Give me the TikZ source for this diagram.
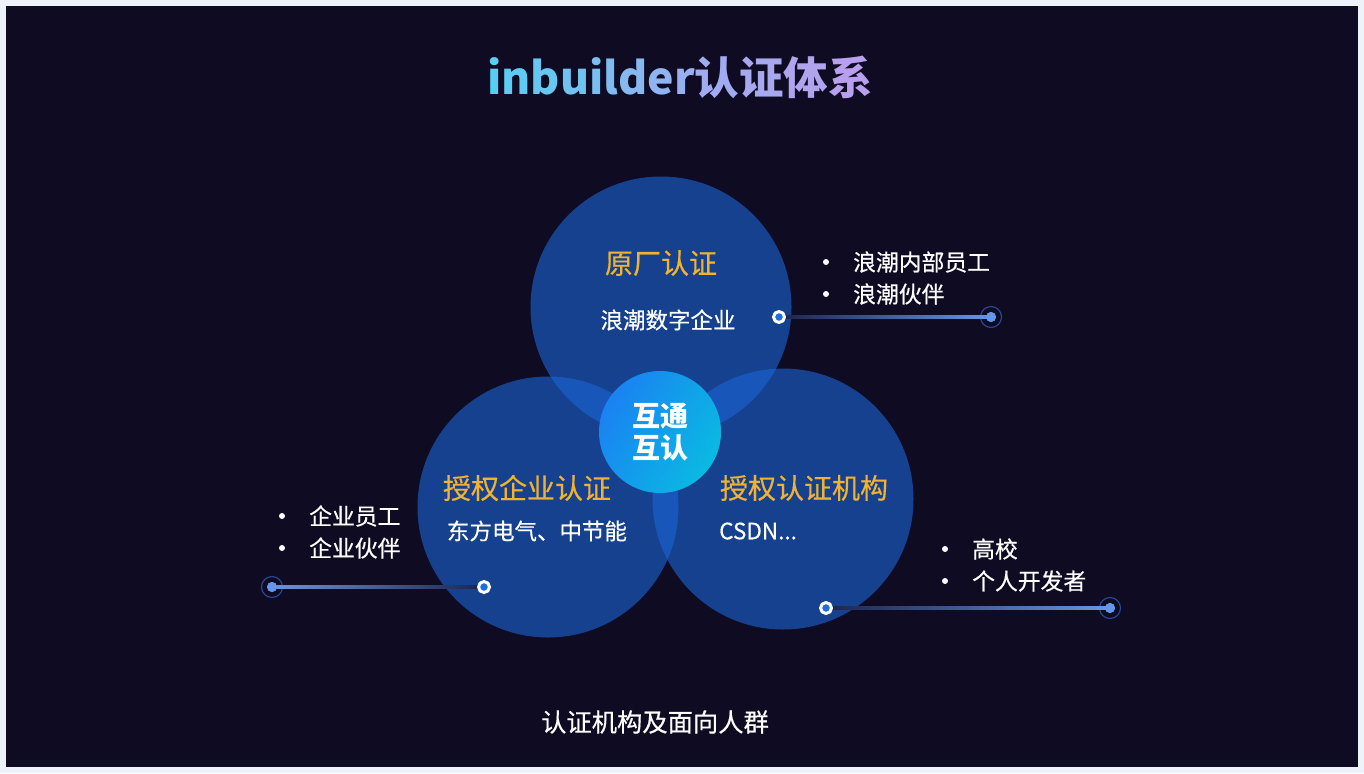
\documentclass[tikz,border=0pt]{standalone}
\usepackage{fontspec}
\setmainfont{Noto Sans CJK SC}
\newfontfamily\medf[FakeBold=0.5]{Noto Sans CJK SC}
\usetikzlibrary{calc}
\definecolor{pagebg}{RGB}{238,243,250}
\definecolor{darkbg}{RGB}{14,11,34}
\definecolor{circfill}{RGB}{27,101,216}
\definecolor{gold}{RGB}{240,178,48}
\definecolor{dotblue}{RGB}{30,110,225}
\definecolor{endblue}{RGB}{100,150,235}
\definecolor{ringblue}{RGB}{40,70,145}
\definecolor{lineDim}{RGB}{30,40,80}
\definecolor{lineBright}{RGB}{105,150,225}
\definecolor{midA}{RGB}{26,130,242}
\definecolor{midB}{RGB}{10,186,226}
\definecolor{t0}{RGB}{88,207,242}
\definecolor{t1}{RGB}{96,203,242}
\definecolor{t2}{RGB}{104,199,241}
\definecolor{t3}{RGB}{112,195,241}
\definecolor{t4}{RGB}{120,191,241}
\definecolor{t5}{RGB}{128,187,240}
\definecolor{t6}{RGB}{136,184,240}
\definecolor{t7}{RGB}{144,180,240}
\definecolor{t8}{RGB}{152,176,239}
\definecolor{t9}{RGB}{160,172,239}
\definecolor{t10}{RGB}{168,168,239}
\definecolor{t11}{RGB}{176,164,238}
\definecolor{t12}{RGB}{184,160,238}
\begin{document}
\begin{tikzpicture}[x=1pt,y=-1pt,
  bigc/.style={circle, minimum size=261pt, inner sep=0pt, fill=circfill, fill opacity=0.6},
  head/.style={text=gold, inner sep=0pt, font=\medf\fontsize{28}{30}\selectfont},
  sub/.style={text=white, inner sep=0pt, font=\medf\fontsize{22.5}{26}\selectfont},
  item/.style={text=white, anchor=west, inner sep=0pt, font=\medf\fontsize{22.8}{26}\selectfont},
  bul/.style={circle, fill=white, minimum size=6pt, inner sep=0pt},
  sdot/.style={circle, draw=white, line width=3pt, fill=dotblue, minimum size=11pt, inner sep=0pt},
  edot/.style={circle, fill=endblue, minimum size=10pt, inner sep=0pt},
  ering/.style={circle, draw=ringblue, line width=1.2pt, minimum size=21pt, inner sep=0pt}
]
\useasboundingbox (0,0) rectangle (1364,773);
\fill[pagebg] (0,0) rectangle (1364,773);
\fill[darkbg] (6,6) rectangle (1358,767);

% title
\node[inner sep=0pt, font=\fontsize{44.5}{48}\selectfont\bfseries] (title) at (680,77)
  {{\color{t0}i}{\color{t1}n}{\color{t2}b}{\color{t3}u}{\color{t4}i}{\color{t5}l}{\color{t6}d}{\color{t7}e}{\color{t8}r}{\color{t9}认}{\color{t10}证}{\color{t11}体}{\color{t12}系}};

% circles
\node[bigc] (ctop) at (661,307) {};
\node[bigc] (cleft) at (548,507) {};
\node[bigc] (cright) at (783,499) {};

\node[circle, minimum size=122pt, inner sep=0pt, left color=midA, right color=midB, shading angle=60,
      text=white, align=center, font=\fontsize{28}{32}\selectfont\bfseries] (mid) at (660,432) {互通\\互认};

% circle texts
\node[head] (h1) at (661,263) {原厂认证};
\node[sub] (s1t) at (668,320) {浪潮数字企业};
\node[head] (h2) at (527,488) {授权企业认证};
\node[sub] (s2t) at (537,531) {东方电气、中节能};
\node[head] (h3) at (804,488) {授权认证机构};
\node[sub, anchor=west] (s3t) at (719,531) {CSDN...};

% connectors
\node[ering] (e1r) at (991,317) {};
\node[edot] (e1) at (991,317) {};
\node[ering] (e2r) at (272,587) {};
\node[edot] (e2) at (272,587) {};
\node[ering] (e3r) at (1110,608) {};
\node[edot] (e3) at (1110,608) {};
\node[sdot] (d1) at (779,317) {};
\node[sdot] (d2) at (484,587) {};
\node[sdot] (d3) at (826,608) {};
\shade[left color=lineDim, right color=lineBright] ($(d1.east)+(0,-1.3)$) rectangle ($(e1.center)+(0,1.3)$);
\shade[left color=lineBright, right color=lineDim] ($(e2.center)+(0,-1.3)$) rectangle ($(d2.west)+(0,1.3)$);
\shade[left color=lineDim, right color=lineBright] ($(d3.east)+(0,-1.3)$) rectangle ($(e3.center)+(0,1.3)$);
\node[edot] at (e1) {};
\node[edot] at (e2) {};
\node[edot] at (e3) {};

% lists
\node[bul] (b1a) at (826,262) {};
\node[item] (l1a) at (853,262) {浪潮内部员工};
\node[bul] (b1b) at (826,294) {};
\node[item] (l1b) at (853,294) {浪潮伙伴};
\node[bul] (b2a) at (282,516) {};
\node[item] (l2a) at (309,516) {企业员工};
\node[bul] (b2b) at (282,548) {};
\node[item] (l2b) at (309,548) {企业伙伴};
\node[bul] (b3a) at (945,549) {};
\node[item] (l3a) at (972,549) {高校};
\node[bul] (b3b) at (945,581) {};
\node[item] (l3b) at (972,581) {个人开发者};

% caption
\node[text=white, inner sep=0pt, font=\medf\fontsize{25.3}{28}\selectfont] (cap) at (655,722) {认证机构及面向人群};
\end{tikzpicture}
\end{document}
